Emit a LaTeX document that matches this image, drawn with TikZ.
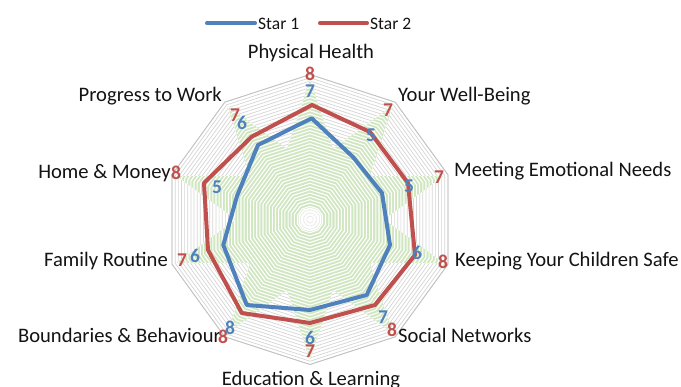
\documentclass[tikz,border=0pt]{standalone}
\usepackage{fontspec}
\setmainfont{Carlito}
\definecolor{sblue}{RGB}{79,129,189}
\definecolor{sred}{RGB}{192,80,77}
\definecolor{gridc}{RGB}{214,214,214}
\definecolor{starg}{RGB}{208,230,192}
\definecolor{txtc}{RGB}{20,20,20}
\begin{document}
\begin{tikzpicture}[x=1pt,y=-1pt,
  catl/.style={inner sep=0pt,text=txtc,font=\fontsize{20.6}{22}\selectfont},
  dlab/.style={inner sep=0pt,font=\bfseries\fontsize{19.5}{20}\selectfont},
  bluel/.style={dlab,text=sblue},
  redl/.style={dlab,text=sred},
  serline/.style={line width=4pt,line join=round},
  legl/.style={inner sep=0pt,text=txtc,font=\fontsize{17.5}{19}\selectfont}]
\useasboundingbox (0,0) rectangle (681,387);
\fill[white] (0,0) rectangle (681,387);
\coordinate (O) at (310,219.5);
% grid rings
\begin{scope}[shift={(O)}]
\foreach \k in {1,...,44}{
  \pgfmathsetmacro\r{145*\k/44}
  \draw[gridc,line width=0.7pt] (-90:\r) \foreach \a in {-54,-18,...,234}{-- (\a:\r)} -- cycle;
}
% green star
\fill[starg] (-90:140) \foreach \a in {-90,-54,...,234}{-- (\a:140) -- ({\a+18}:74)} -- cycle;
\begin{scope}
\clip (-90:140) \foreach \a in {-90,-54,...,234}{-- (\a:140) -- ({\a+18}:74)} -- cycle;
\foreach \k in {1,...,44}{
  \pgfmathsetmacro\r{145*\k/44}
  \draw[white,line width=1.1pt] (-90:\r) \foreach \a in {-54,-18,...,234}{-- (\a:\r)} -- cycle;
}
\end{scope}
\fill[white] (-90:12) \foreach \a in {-54,-18,...,234}{-- (\a:12)} -- cycle;
\foreach \k in {1,2,3}{
  \pgfmathsetmacro\r{145*\k/44}
  \draw[gridc!60,line width=0.6pt] (-90:\r) \foreach \a in {-54,-18,...,234}{-- (\a:\r)} -- cycle;
}
\draw[gridc!90!black,line width=0.8pt] (-90:145) \foreach \a in {-54,-18,...,234}{-- (\a:145)} -- cycle;
\end{scope}
% series lines
\draw[serline,sred] (312,105) -- (370,132) -- (408,183) -- (415,255) -- (375,305) -- (310,323) -- (241.7,313) -- (208,250) -- (204,183) -- (251.7,136.7) -- cycle;
\draw[serline,sblue] (311.7,118.3) -- (353,157) -- (382,193) -- (390,245) -- (366.7,295) -- (310,310) -- (246.7,305) -- (223.3,245) -- (237,196) -- (258,145) -- cycle;
% category labels
\node[catl,anchor=base] (lph) at (311,59) {Physical Health};
\node[catl,anchor=base west] (lywb) at (398,102) {Your Well-Being};
\node[catl,anchor=base west] (lmen) at (454,177) {Meeting Emotional Needs};
\node[catl,anchor=base west] (lkycs) at (455,267) {Keeping Your Children Safe};
\node[catl,anchor=base west] (lsn) at (398,343) {Social Networks};
\node[catl,anchor=base] (lel) at (311,386) {Education \& Learning};
\node[catl,anchor=base east] (lbb) at (221,343) {Boundaries \& Behaviour};
\node[catl,anchor=base east] (lfr) at (168,267) {Family Routine};
\node[catl,anchor=base east] (lhm) at (171,179) {Home \& Money};
\node[catl,anchor=base east] (lptw) at (222,102) {Progress to Work};
% data labels
\node[redl] (r1) at (310,74) {8};
\node[bluel] (b1) at (310,91) {7};
\node[redl] (r2) at (388,110) {7};
\node[bluel] (b2) at (371,135) {5};
\node[redl] (r3) at (439,177) {7};
\node[bluel] (b3) at (409,186) {5};
\node[redl] (r4) at (443,262) {8};
\node[bluel] (b4) at (417,253) {6};
\node[redl] (r5) at (392,330) {8};
\node[bluel] (b5) at (383,317) {7};
\node[redl] (r6) at (310,351) {7};
\node[bluel] (b6) at (310,338) {6};
\node[redl] (r7) at (223,337) {8};
\node[bluel] (b7) at (230,328) {8};
\node[redl] (r8) at (182,260) {7};
\node[bluel] (b8) at (195,256) {6};
\node[redl] (r9) at (176,173) {8};
\node[bluel] (b9) at (217,187) {5};
\node[redl] (r10) at (235,115) {7};
\node[bluel] (b10) at (242,123) {6};
% legend
\coordinate (lb1) at (207,23.3);
\coordinate (lb2) at (255,23.3);
\coordinate (lr1) at (320,23.3);
\coordinate (lr2) at (367,23.3);
\draw[sblue,line width=4pt,line cap=round] (lb1) -- (lb2);
\draw[sred,line width=4pt,line cap=round] (lr1) -- (lr2);
\node[legl,anchor=base west] (leg1) at (258,29.3) {Star 1};
\node[legl,anchor=base west] (leg2) at (370,29.3) {Star 2};
\end{tikzpicture}
\end{document}
